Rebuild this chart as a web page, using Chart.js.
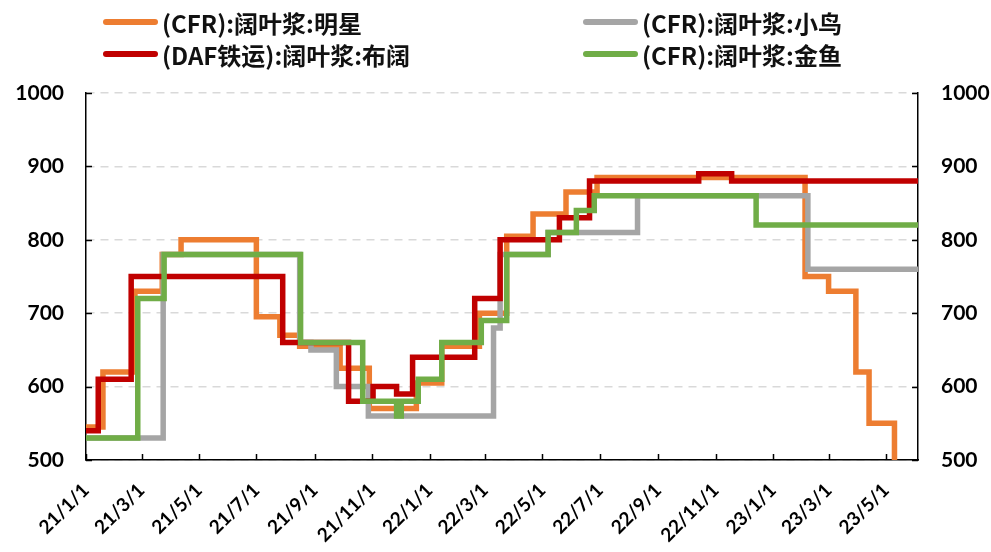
<!DOCTYPE html>
<html>
<head>
<meta charset="utf-8">
<script src="https://cdn.jsdelivr.net/npm/chart.js@4/dist/chart.umd.min.js"></script>
<style>
  html, body { margin: 0; padding: 0; background: #fff; }
  #wrap { position: relative; width: 991px; height: 552px; }
  .lg { position: absolute; display: flex; align-items: center; height: 30px;
        font: bold 24px "Noto Sans CJK SC", sans-serif; color: #111; white-space: nowrap; }
  .lg i { display: inline-block; width: 55px; height: 6px; border-radius: 3px; margin-right: 4px; }
</style>
</head>
<body>
<div id="wrap">
  <canvas id="chart"></canvas>
  <div id="legend"></div>
</div>
<script>
/* ---- Данные: даты смены цены и сами цены (ступеньки) ---- */
const mingxingDates  = ["2021-01-01","2021-01-19","2021-02-22","2021-03-23","2021-04-12","2021-07-01","2021-07-26","2021-08-16","2021-09-28","2021-10-29","2021-12-18","2022-01-14","2022-02-23","2022-03-24","2022-04-21","2022-05-26","2022-06-28","2023-02-04","2023-03-01","2023-03-30","2023-04-13","2023-05-10"];
const mingxingValues = [545,620,730,780,800,695,670,655,625,570,605,655,700,805,835,865,885,750,730,620,550,500];

const bukuoDates  = ["2021-01-01","2021-01-14","2021-02-18","2021-07-29","2021-10-07","2021-11-02","2021-11-27","2021-12-14","2022-02-18","2022-03-17","2022-05-19","2022-06-20","2022-10-14","2022-11-18","2023-06-04"];
const bukuoValues = [540,610,750,660,580,600,590,640,720,800,830,880,890,880,880];

const xiaoniaoDates  = ["2021-01-01","2021-03-24","2021-08-16","2021-08-28","2021-09-24","2021-10-28","2022-03-10","2022-03-17","2022-05-07","2022-08-10","2023-02-07","2023-06-04"];
const xiaoniaoValues = [530,780,660,650,600,560,680,780,810,860,760,760];

const jinyuDates  = ["2021-01-01","2021-02-25","2021-03-25","2021-08-17","2021-10-22","2021-11-27","2021-12-02","2021-12-20","2022-01-14","2022-02-25","2022-03-24","2022-05-07","2022-06-06","2022-06-25","2022-12-14","2023-06-04"];
const jinyuValues = [530,720,780,660,580,560,580,610,660,690,780,810,840,860,820,820];

// подписи оси X (каждые два месяца)
const tickDates  = ["2021-01-01","2021-03-01","2021-05-01","2021-07-01","2021-09-01","2021-11-01","2022-01-01","2022-03-01","2022-05-01","2022-07-01","2022-09-01","2022-11-01","2023-01-01","2023-03-01","2023-05-01"];
const tickLabels = ["21/1/1","21/3/1","21/5/1","21/7/1","21/9/1","21/11/1","22/1/1","22/3/1","22/5/1","22/7/1","22/9/1","22/11/1","23/1/1","23/3/1","23/5/1"];
const yTicks = [500, 600, 700, 800, 900, 1000];

const START = "2021-01-01";
const END   = "2023-06-04";

// легенда: порядок как в оригинале (две колонки)
const SERIES = [
  { name: "(CFR):阔叶浆:明星",     color: "#ED7D31", dates: mingxingDates, values: mingxingValues, col: 0, row: 0 },
  { name: "(CFR):阔叶浆:小鸟",     color: "#A5A5A5", dates: xiaoniaoDates, values: xiaoniaoValues, col: 1, row: 0 },
  { name: "(DAF铁运):阔叶浆:布阔", color: "#C00000", dates: bukuoDates,    values: bukuoValues,    col: 0, row: 1 },
  { name: "(CFR):阔叶浆:金鱼",     color: "#70AD47", dates: jinyuDates,    values: jinyuValues,    col: 1, row: 1 }
];
// кто рисуется сверху (первый — самый верхний)
const DRAW_ORDER = ["(CFR):阔叶浆:金鱼", "(DAF铁运):阔叶浆:布阔", "(CFR):阔叶浆:小鸟", "(CFR):阔叶浆:明星"];

const FONT = "Lato, 'Noto Sans CJK SC', sans-serif";

/* ---- дата -> номер дня от начала ---- */
function dayNum(s) {
  const [y, m, d] = s.split("-").map(Number);
  const [y0, m0, d0] = START.split("-").map(Number);
  return Math.round((Date.UTC(y, m - 1, d) - Date.UTC(y0, m0 - 1, d0)) / 86400000);
}
const tickDays = tickDates.map(dayNum);

/* ---- Легенда в HTML ---- */
function buildLegend() {
  const box = document.getElementById("legend");
  SERIES.forEach(s => {
    const el = document.createElement("div");
    el.className = "lg";
    el.style.left = (s.col ? 583 : 103) + "px";
    el.style.top = (s.row ? 39 : 7) + "px";
    el.innerHTML = '<i style="background:' + s.color + '"></i>' + s.name;
    box.appendChild(el);
  });
}

/* ---- Засечки внутрь области графика ---- */
const innerTicks = {
  id: "innerTicks",
  afterDraw(c) {
    const ctx = c.ctx, a = c.chartArea;
    const x = c.scales.x, yl = c.scales.y, yr = c.scales.y2;
    ctx.save();
    ctx.strokeStyle = "#000";
    ctx.lineWidth = 1.5;
    ctx.beginPath();
    tickDays.forEach(d => {
      const px = Math.round(x.getPixelForValue(d)) + 0.5;
      ctx.moveTo(px, a.bottom); ctx.lineTo(px, a.bottom - 6);
    });
    yTicks.forEach(v => {
      const py = Math.round(yl.getPixelForValue(v)) + 0.5;
      ctx.moveTo(a.left, py); ctx.lineTo(a.left + 6, py);
      const pr = Math.round(yr.getPixelForValue(v)) + 0.5;
      ctx.moveTo(a.right, pr); ctx.lineTo(a.right - 6, pr);
    });
    ctx.stroke();
    ctx.restore();
  }
};

function renderChart() {
  const datasets = DRAW_ORDER.map(n => {
    const s = SERIES.find(x => x.name === n);
    return {
      label: s.name,
      data: s.dates.map((d, i) => ({ x: dayNum(d), y: s.values[i] })),
      borderColor: s.color,
      backgroundColor: s.color,
      borderWidth: 5.5,
      stepped: true,
      pointRadius: 0,
      fill: false
    };
  });

  const tickFont = { family: FONT, size: 21, weight: "bold" };

  new Chart(document.getElementById("chart"), {
    type: "line",
    data: { datasets },
    options: {
      responsive: true, maintainAspectRatio: false, animation: false,
      layout: { padding: { top: 93, left: 0, right: 0, bottom: 0 } },
      plugins: { legend: { display: false }, tooltip: { enabled: false } },
      scales: {
        x: {
          type: "linear", min: 0, max: dayNum(END),
          afterBuildTicks: sc => { sc.ticks = tickDays.map(v => ({ value: v })); },
          afterFit: sc => { sc.height = 92; },
          grid: { display: false, drawTicks: false },
          border: { display: true, color: "#000", width: 1.5 },
          ticks: {
            autoSkip: false, minRotation: 45, maxRotation: 45, padding: 19,
            color: "#000", font: { family: FONT, size: 19, weight: "bold" },
            callback: v => tickLabels[tickDays.indexOf(v)] || ""
          }
        },
        y: {
          position: "left", min: 500, max: 1000,
          afterBuildTicks: sc => { sc.ticks = yTicks.map(v => ({ value: v })); },
          afterFit: sc => { sc.width = 86; },
          grid: { color: "#d9d9d9", lineWidth: 1.5, drawTicks: false },
          border: { display: true, color: "#000", width: 1.5, dash: [8, 6] },
          ticks: { padding: 22, color: "#000", font: tickFont, callback: v => String(v) }
        },
        y2: {
          position: "right", min: 500, max: 1000,
          afterBuildTicks: sc => { sc.ticks = yTicks.map(v => ({ value: v })); },
          afterFit: sc => { sc.width = 73; },
          grid: { display: false, drawTicks: false },
          border: { display: true, color: "#000", width: 1.5 },
          ticks: { padding: 23, color: "#000", font: tickFont, callback: v => String(v) }
        }
      }
    },
    plugins: [innerTicks]
  });
}

buildLegend();
renderChart();
</script>
</body>
</html>
